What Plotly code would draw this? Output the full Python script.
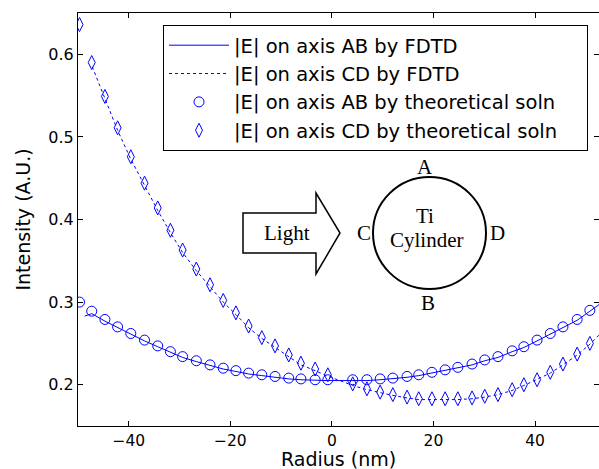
import plotly.graph_objects as go

# Theoretical solution sample positions (nm)
x_theory = [-49.7, -47.3, -44.7, -42.2, -39.6, -36.9, -34.3, -31.8, -29.4, -26.7,
            -24.0, -21.4, -18.9, -16.4, -13.8, -11.2, -8.5, -6.1, -3.3, -0.8,
            4.1, 6.9, 9.5, 12.0, 14.8, 17.1, 19.7, 22.3, 24.8, 27.6,
            30.1, 32.7, 35.5, 37.8, 40.4, 43.0, 45.5, 48.3, 50.8]
ab_theory = [0.300, 0.289, 0.279, 0.270, 0.262, 0.254, 0.247, 0.240, 0.234, 0.229,
             0.224, 0.220, 0.217, 0.214, 0.212, 0.210, 0.208, 0.207, 0.206, 0.206,
             0.206, 0.206, 0.207, 0.208, 0.210, 0.212, 0.215, 0.218, 0.221, 0.225,
             0.230, 0.234, 0.241, 0.246, 0.254, 0.262, 0.270, 0.279, 0.290]
cd_theory = [0.636, 0.590, 0.549, 0.511, 0.476, 0.444, 0.414, 0.387, 0.363, 0.340,
             0.321, 0.302, 0.287, 0.271, 0.257, 0.247, 0.236, 0.226, 0.219, 0.212,
             0.201, 0.195, 0.191, 0.188, 0.185, 0.183, 0.183, 0.183, 0.183, 0.184,
             0.186, 0.188, 0.194, 0.200, 0.206, 0.215, 0.225, 0.237, 0.250]

# FDTD curves
x_fdtd_ab = [-48.7, -47.3, -44.7, -42.2, -39.6, -36.9, -34.3, -31.8, -29.4, -26.7,
             -24.0, -21.4, -18.9, -16.4, -13.8, -11.2, -8.5, -6.1, -3.3, -0.8, 1.6,
             4.1, 6.9, 9.5, 12.0, 14.8, 17.1, 19.7, 22.3, 24.8, 27.6,
             30.1, 32.7, 35.5, 37.8, 40.4, 43.0, 45.5, 48.3, 50.8, 52.6]
ab_fdtd = [0.283, 0.286, 0.277, 0.269, 0.261, 0.253, 0.246, 0.239, 0.233, 0.228,
           0.223, 0.219, 0.216, 0.213, 0.211, 0.209, 0.207, 0.206, 0.205, 0.205, 0.205,
           0.205, 0.205, 0.206, 0.207, 0.209, 0.211, 0.214, 0.217, 0.220, 0.224,
           0.229, 0.233, 0.240, 0.245, 0.253, 0.261, 0.269, 0.278, 0.289, 0.297]
x_fdtd_cd = [-47.2, -44.7, -42.2, -39.6, -36.9, -34.3, -31.8, -29.4, -26.7,
             -24.0, -21.4, -18.9, -16.4, -13.8, -11.2, -8.5, -6.1, -3.3, -0.8, 1.6,
             4.1, 6.9, 9.5, 12.0, 14.8, 17.1, 19.7, 22.3, 24.8, 27.6,
             30.1, 32.7, 35.5, 37.8, 40.4, 43.0, 45.5, 48.3, 50.8, 52.6]
cd_fdtd = [0.585, 0.546, 0.508, 0.473, 0.441, 0.411, 0.384, 0.360, 0.338,
           0.319, 0.300, 0.285, 0.269, 0.256, 0.245, 0.234, 0.224, 0.217, 0.210, 0.205,
           0.199, 0.194, 0.190, 0.187, 0.184, 0.182, 0.182, 0.182, 0.182, 0.183,
           0.185, 0.188, 0.193, 0.199, 0.206, 0.214, 0.224, 0.236, 0.249, 0.260]

x_ticks = [-40, -20, 0, 20, 40]
y_ticks = [0.2, 0.3, 0.4, 0.5, 0.6]
y_tick_labels = ["0.2", "0.3", "0.4", "0.5", "0.6"]
x_title = "Radius (nm)"
y_title = "Intensity (A.U.)"

BLUE = "#0000ff"
W, H = 599, 469
ML, MR, MT, MB = 78, 0, 13, 43
PAD = "\u00a0\u00a0\u00a0\u00a0"

fig = go.Figure()
fig.add_trace(go.Scatter(x=x_fdtd_ab, y=ab_fdtd, mode="lines",
                         line=dict(color=BLUE, width=1),
                         name="|E| on axis AB by FDTD" + PAD))
fig.add_trace(go.Scatter(x=x_fdtd_cd, y=cd_fdtd, mode="lines",
                         line=dict(color=BLUE, width=1, dash="3px,3px"),
                         name="|E| on axis CD by FDTD" + PAD))
fig.add_trace(go.Scatter(x=x_theory, y=ab_theory, mode="markers",
                         marker=dict(symbol="circle-open", size=10, color=BLUE,
                                     line=dict(width=1, color=BLUE)),
                         name="|E| on axis AB by theoretical soln" + PAD))
fig.add_trace(go.Scatter(x=x_theory, y=cd_theory, mode="markers",
                         marker=dict(symbol="diamond-tall-open", size=10, color=BLUE,
                                     line=dict(width=1, color=BLUE)),
                         name="|E| on axis CD by theoretical soln" + PAD))
fig.add_trace(go.Scatter(x=[], y=[], yaxis="y2", showlegend=False, hoverinfo="skip"))

PW = W - ML - MR
PH = H - MT - MB


def px(xp):
    return (xp - ML) / PW


def py(yp):
    return (H - MB - yp) / PH


shapes = []
arrow_pts = [(243, 213), (316, 213), (316, 193), (340, 233), (316, 274), (316, 253), (243, 253)]
path = "M " + " L ".join(f"{px(a):.5f},{py(b):.5f}" for a, b in arrow_pts) + " Z"
shapes.append(dict(type="path", xref="paper", yref="paper", path=path,
                   line=dict(color="black", width=1.5), fillcolor="white", layer="above"))
shapes.append(dict(type="circle", xref="paper", yref="paper",
                   x0=px(373), x1=px(486), y0=py(289), y1=py(177),
                   line=dict(color="black", width=2), fillcolor="rgba(0,0,0,0)", layer="above"))

sans = "DejaVu Sans, Arial, sans-serif"
serif = dict(family="Liberation Serif, Times New Roman, serif", size=21, color="black")
annots = []
for text, xp_, yp_ in [("Light", 287, 233), ("Ti", 425, 216), ("Cylinder", 427, 240),
                       ("A", 425, 167), ("B", 428, 303), ("C", 364, 233), ("D", 497, 233)]:
    annots.append(dict(text=text, x=px(xp_), y=py(yp_), xref="paper", yref="paper",
                       showarrow=False, font=serif, xanchor="center", yanchor="middle"))
annots.append(dict(text=x_title, x=0.5, y=py(471), xref="paper", yref="paper",
                   showarrow=False, xanchor="center", yanchor="bottom",
                   font=dict(size=19, family=sans, color="black"), borderpad=0))

fig.update_layout(
    width=W, height=H,
    margin=dict(l=ML, r=MR, t=MT, b=MB),
    paper_bgcolor="white", plot_bgcolor="white",
    font=dict(family=sans, color="black"),
    xaxis=dict(range=[-50, 52.6], tickvals=x_ticks, ticks="inside", ticklen=5,
               tickcolor="black", showline=True, linecolor="black", linewidth=1,
               mirror="ticks", showgrid=False, zeroline=False,
               tickfont=dict(size=15.5, family=sans), automargin=False),
    yaxis=dict(range=[0.15, 0.65], tickvals=y_ticks, ticktext=y_tick_labels,
               ticks="inside", ticklen=5, tickcolor="black", showline=True,
               linecolor="black", linewidth=1, showgrid=False, zeroline=False,
               tickfont=dict(size=16, family=sans),
               title=dict(text=y_title, font=dict(size=19, family=sans), standoff=12),
               automargin=False),
    yaxis2=dict(range=[0.15, 0.65], tickvals=y_ticks, overlaying="y", side="right",
                ticks="inside", ticklen=5, tickcolor="black", showline=False,
                showticklabels=False, showgrid=False, zeroline=False),
    legend=dict(x=px(588), y=py(25), xanchor="right", yanchor="top",
                bgcolor="white", bordercolor="black", borderwidth=1,
                font=dict(size=19.5, family=sans), itemwidth=60,
                tracegroupgap=0),
    shapes=shapes,
    annotations=annots,
    showlegend=True,
)

fig.write_html("out.html")
